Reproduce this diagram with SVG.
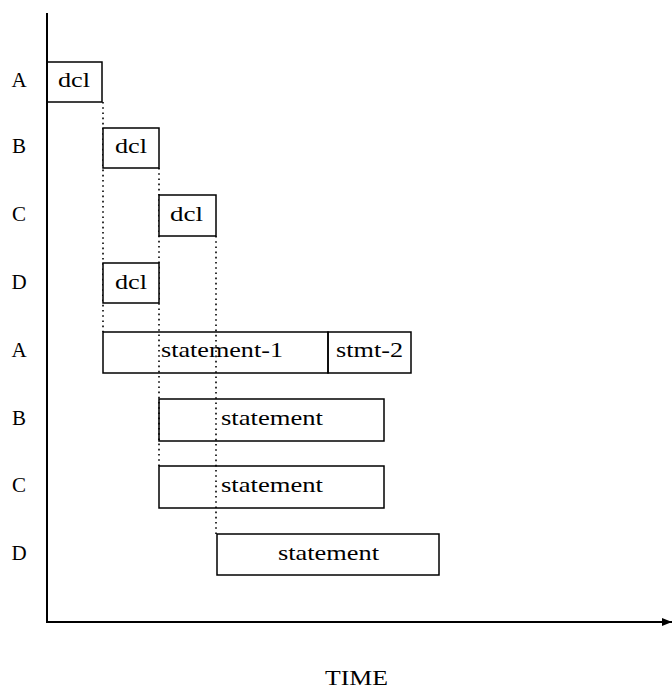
<svg xmlns="http://www.w3.org/2000/svg" width="672" height="689" viewBox="0 0 672 689">
<style>
  .box { fill: #fff; stroke: #000; stroke-width: 1.5; }
  .txt { font-family: "Liberation Serif", "Times New Roman", serif; font-size: 21px; fill: #000; }
  .lbl { font-family: "Liberation Serif", "Times New Roman", serif; font-size: 21px; fill: #000; text-anchor: middle; }
  .dot { stroke: #000; stroke-width: 1.6; stroke-dasharray: 1.6 3.6; fill: none; }
  .axis { stroke: #000; stroke-width: 2; fill: none; }
</style>
<defs>
  <marker id="arr" viewBox="0 0 10 8" refX="10" refY="4" markerWidth="10" markerHeight="8" markerUnits="userSpaceOnUse" orient="auto">
    <path d="M0,0 L10,4 L0,8 Z" fill="#000"/>
  </marker>
</defs>
<rect width="672" height="689" fill="#fff"/>
<g id="labels">
  <text class="lbl" x="19" y="87">A</text>
  <text class="lbl" x="19" y="153">B</text>
  <text class="lbl" x="19" y="221">C</text>
  <text class="lbl" x="19" y="289">D</text>
  <text class="lbl" x="19" y="357">A</text>
  <text class="lbl" x="19" y="425">B</text>
  <text class="lbl" x="19" y="492">C</text>
  <text class="lbl" x="19" y="560">D</text>
</g>
<g id="connectors">
  <line class="dot" x1="103" y1="102" x2="103" y2="332"/>
  <line class="dot" x1="159" y1="168" x2="159" y2="466"/>
  <line class="dot" x1="216" y1="236" x2="216" y2="534"/>
</g>
<g id="node-a-dcl">
  <rect class="box" x="47" y="62" width="55" height="40"/>
  <text class="txt" x="58" y="87" textLength="32" lengthAdjust="spacingAndGlyphs">dcl</text>
</g>
<g id="node-b-dcl">
  <rect class="box" x="103" y="128" width="56" height="40"/>
  <text class="txt" x="115" y="153" textLength="32" lengthAdjust="spacingAndGlyphs">dcl</text>
</g>
<g id="node-c-dcl">
  <rect class="box" x="159" y="195" width="57" height="41"/>
  <text class="txt" x="170" y="221" textLength="33" lengthAdjust="spacingAndGlyphs">dcl</text>
</g>
<g id="node-d-dcl">
  <rect class="box" x="103" y="263" width="56" height="40"/>
  <text class="txt" x="115" y="289" textLength="32" lengthAdjust="spacingAndGlyphs">dcl</text>
</g>
<g id="node-a-stmt1">
  <rect x="103" y="332" width="225" height="41" fill="none" stroke="#000" stroke-width="1.5"/>
  <text class="txt" x="161" y="357" textLength="122" lengthAdjust="spacingAndGlyphs">statement-1</text>
</g>
<g id="node-a-stmt2">
  <rect x="328" y="332" width="83" height="41" fill="none" stroke="#000" stroke-width="1.5"/>
  <text class="txt" x="336" y="357" textLength="67" lengthAdjust="spacingAndGlyphs">stmt-2</text>
</g>
<g id="node-b-stmt">
  <rect x="159" y="399" width="225" height="42" fill="none" stroke="#000" stroke-width="1.5"/>
  <text class="txt" x="221" y="425" textLength="102" lengthAdjust="spacingAndGlyphs">statement</text>
</g>
<g id="node-c-stmt">
  <rect x="159" y="466" width="225" height="42" fill="none" stroke="#000" stroke-width="1.5"/>
  <text class="txt" x="221" y="492" textLength="102" lengthAdjust="spacingAndGlyphs">statement</text>
</g>
<g id="node-d-stmt">
  <rect class="box" x="217" y="534" width="222" height="41"/>
  <text class="txt" x="278" y="560" textLength="101" lengthAdjust="spacingAndGlyphs">statement</text>
</g>
<g id="axes">
  <line class="axis" x1="47" y1="13" x2="47" y2="622"/>
  <line class="axis" x1="46" y1="622" x2="672" y2="622" marker-end="url(#arr)"/>
  <text class="txt" x="325" y="685" textLength="63" lengthAdjust="spacingAndGlyphs">TIME</text>
</g>
</svg>
